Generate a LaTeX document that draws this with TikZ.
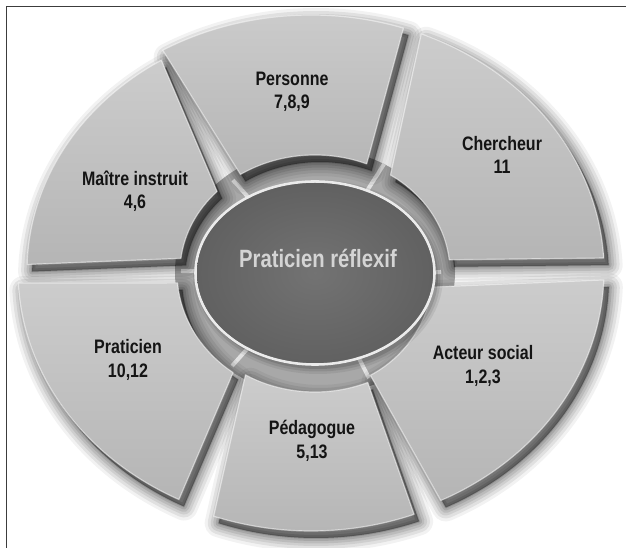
\documentclass[tikz,border=0pt]{standalone}
\usepackage{fontspec}
\setmainfont{Liberation Sans}
\newfontfamily\labfont[FakeStretch=0.82]{Liberation Sans}
\newfontfamily\titfont[FakeStretch=0.81]{Liberation Sans}
\usetikzlibrary{calc}
\definecolor{framecol}{HTML}{3C3C3C}
\definecolor{ringcol}{HTML}{A8A8A8}
\definecolor{ridgecol}{HTML}{E2E2E2}
\definecolor{eggcol}{HTML}{6D6D6D}
\definecolor{titcol}{HTML}{D4D4D4}
\newcommand\segpath[8]{($(O)+(#3:#1 and #2)$) arc[start angle=#3, end angle=#4, x radius=#1, y radius=#2] -- ($(I)+(#8:#5 and #6)$) arc[start angle=#8, end angle=#7, x radius=#5, y radius=#6] -- cycle}
% orx/ory/a1/a2/irx/iry/b1/b2
\def\seglist{293/256/2.9/67.9/135/117/6/56, 293/256/-63.7/-2/118/117/-62/-7.4, 293/260/-109.4/-69.4/135/120/-121/-67, 293/256/182.7/243.2/138/125/185/233.6, 284/248/121.8/178.5/135/117/136.5/173.3, 293/256/71.6/120.4/135/117/67.5/123.5}
\tikzset{
  lab/.style={align=center, text=black!92, font=\labfont\bfseries\fontsize{19.5}{23.5}\selectfont},
  tit/.style={text=titcol, font=\titfont\bfseries\fontsize{25}{28}\selectfont},
  face/.style={top color=black!20, bottom color=black!29},
  bevel/.style={draw=white, draw opacity=0.5, line width=1.2pt, line join=round},
  ridge/.style={draw=ridgecol, line width=4pt}
}
\begin{document}
\begin{tikzpicture}[x=1pt,y=1pt]
\useasboundingbox (0,0) rectangle (626,548);
\fill[white] (0,0) rectangle (626,548);
\coordinate (O) at (311,277);
\coordinate (I) at (315,276);
\coordinate (E) at (315,275);
\coordinate (F1) at (6.5,0);
\coordinate (F2) at (6.5,541.5);
\coordinate (F3) at (626,541.5);
% gap ends on the ring
\coordinate (G1) at (233,368);
\coordinate (G2) at (384,384);
\coordinate (G3) at (441,276);
\coordinate (G4) at (369,170);
\coordinate (G5) at (232,182);
\coordinate (G6) at (181,277);
% frame
\draw[framecol, line width=1.6pt] (F1) -- (F2) -- (F3);
% ring around the centre
\fill[ringcol] (I) ellipse[x radius=140, y radius=124];
\foreach \g in {G1,G2,G3,G4,G5,G6} { \draw[ridge] (\g) -- (E); }
% shadows of the segments
\begin{scope}[transform canvas={shift={(5pt,-7pt)}}]
\foreach \ox/\oy/\aa/\ab/\ix/\iy/\ba/\bb in \seglist {
  \foreach \w/\op in {28/0.05, 22/0.07, 16/0.08, 11/0.09, 6/0.1, 2/0.12} {
    \path[fill=black, fill opacity=\op, draw=black, draw opacity=\op, line width=\w pt, line join=round]
      \segpath{\ox}{\oy}{\aa}{\ab}{\ix}{\iy}{\ba}{\bb};
  }
}
\end{scope}
% faces of the segments
\foreach \ox/\oy/\aa/\ab/\ix/\iy/\ba/\bb in \seglist {
  \shade[face] \segpath{\ox}{\oy}{\aa}{\ab}{\ix}{\iy}{\ba}{\bb};
  \path[bevel] \segpath{\ox}{\oy}{\aa}{\ab}{\ix}{\iy}{\ba}{\bb};
}
% centre ellipse
\begin{scope}[transform canvas={shift={(3pt,-4pt)}}]
\foreach \w/\op in {14/0.07, 9/0.09, 4/0.12} {
  \path[draw=black, draw opacity=\op, line width=\w pt] (E) ellipse[x radius=118, y radius=90];
}
\end{scope}
\draw[white!92!black, line width=2.6pt] (E) ellipse[x radius=119.5, y radius=91.5];
\shade[inner color=black!55, outer color=black!62] (E) ellipse[x radius=118, y radius=90];
% labels
\node[tit] (title) at (318,290) {Praticien réflexif};
\node[lab] (personne) at (292,456) {Personne\\7,8,9};
\node[lab] (chercheur) at (502,393) {Chercheur\\11};
\node[lab] (maitre) at (135,357) {Maître instruit\\4,6};
\node[lab] (praticien) at (128,188) {Praticien\\10,12};
\node[lab] (acteur) at (483,182) {Acteur social\\1,2,3};
\node[lab] (pedagogue) at (312,107) {Pédagogue\\5,13};
\end{tikzpicture}
\end{document}
